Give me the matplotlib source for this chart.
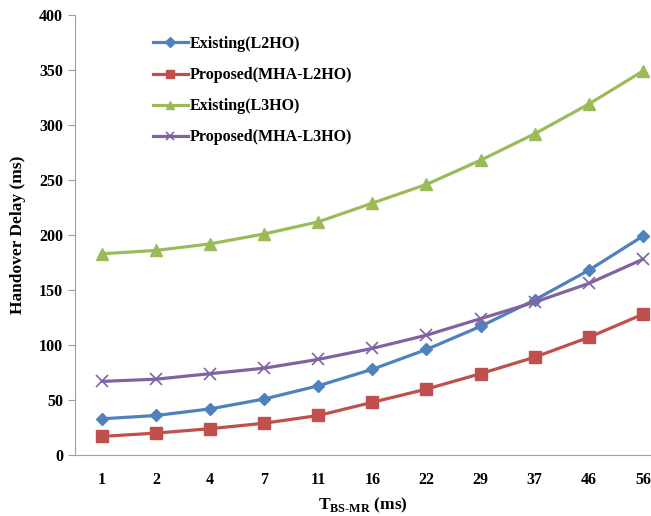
import matplotlib
matplotlib.use('Agg')
import matplotlib.pyplot as plt

plt.rcParams['font.family'] = ['Liberation Serif', 'DejaVu Serif']
plt.rcParams['font.weight'] = 'bold'
plt.rcParams['mathtext.fontset'] = 'custom'
plt.rcParams['mathtext.rm'] = 'Liberation Serif'
plt.rcParams['mathtext.bf'] = 'Liberation Serif:bold'

# x categories (ms)
t_bs_mr = ['1', '2', '4', '7', '11', '16', '22', '29', '37', '46', '56']

# handover delay (ms)
existing_l2ho = [33, 36, 42, 51, 63, 78, 96, 117, 141, 168, 199]
proposed_l2ho = [17, 20, 24, 29, 36, 48, 60, 74, 89, 107, 128]
existing_l3ho = [183, 186, 192, 201, 212, 229, 246, 268, 292, 319, 349]
proposed_l3ho = [67, 69, 74, 79, 87, 97, 109, 124, 139, 156, 178]

fig = plt.figure(figsize=(6.51, 5.16), dpi=100)
ax = fig.add_axes([0.115, 0.118, 0.885, 0.853])

x = range(len(t_bs_mr))
ax.plot(x, existing_l2ho, color='#4F81BD', marker='D', markersize=6, lw=2.3, label='Existing(L2HO)')
ax.plot(x, proposed_l2ho, color='#C0504D', marker='s', markersize=8, lw=2.3, label='Proposed(MHA-L2HO)')
ax.plot(x, existing_l3ho, color='#9BBB59', marker='^', markersize=8, lw=2.3, label='Existing(L3HO)')
ax.plot(x, proposed_l3ho, color='#8064A2', marker='x', markersize=8, mew=1.2, lw=2.3, label='Proposed(MHA-L3HO)')

ax.set_xlim(-0.5, 10.15)
ax.set_ylim(0, 400)
ax.set_yticks(range(0, 401, 50))
ax.set_xticks(list(x))
ax.set_xticklabels(t_bs_mr)

for s in ['top', 'right']:
    ax.spines[s].set_visible(False)
for s in ['left', 'bottom']:
    ax.spines[s].set_color('#A0A0A0')
ax.tick_params(axis='y', length=5, color='#A0A0A0', labelsize=11.5)
ax.tick_params(axis='x', length=0, labelsize=11.5, pad=12)

ax.set_ylabel('Handover Delay (ms)', fontsize=12.5, fontweight='bold', labelpad=9)
ax.set_xlabel(r'T$_{\mathbf{BS\text{-}MR}}$ (ms)', fontsize=12.5, fontweight='bold', labelpad=6)

ax.legend(loc='upper left', bbox_to_anchor=(0.11, 0.985), frameon=False, fontsize=11.5,
          handlelength=2.2, handletextpad=0.1, labelspacing=0.95, markerscale=0.8)

fig.savefig('out.png', dpi=100)
